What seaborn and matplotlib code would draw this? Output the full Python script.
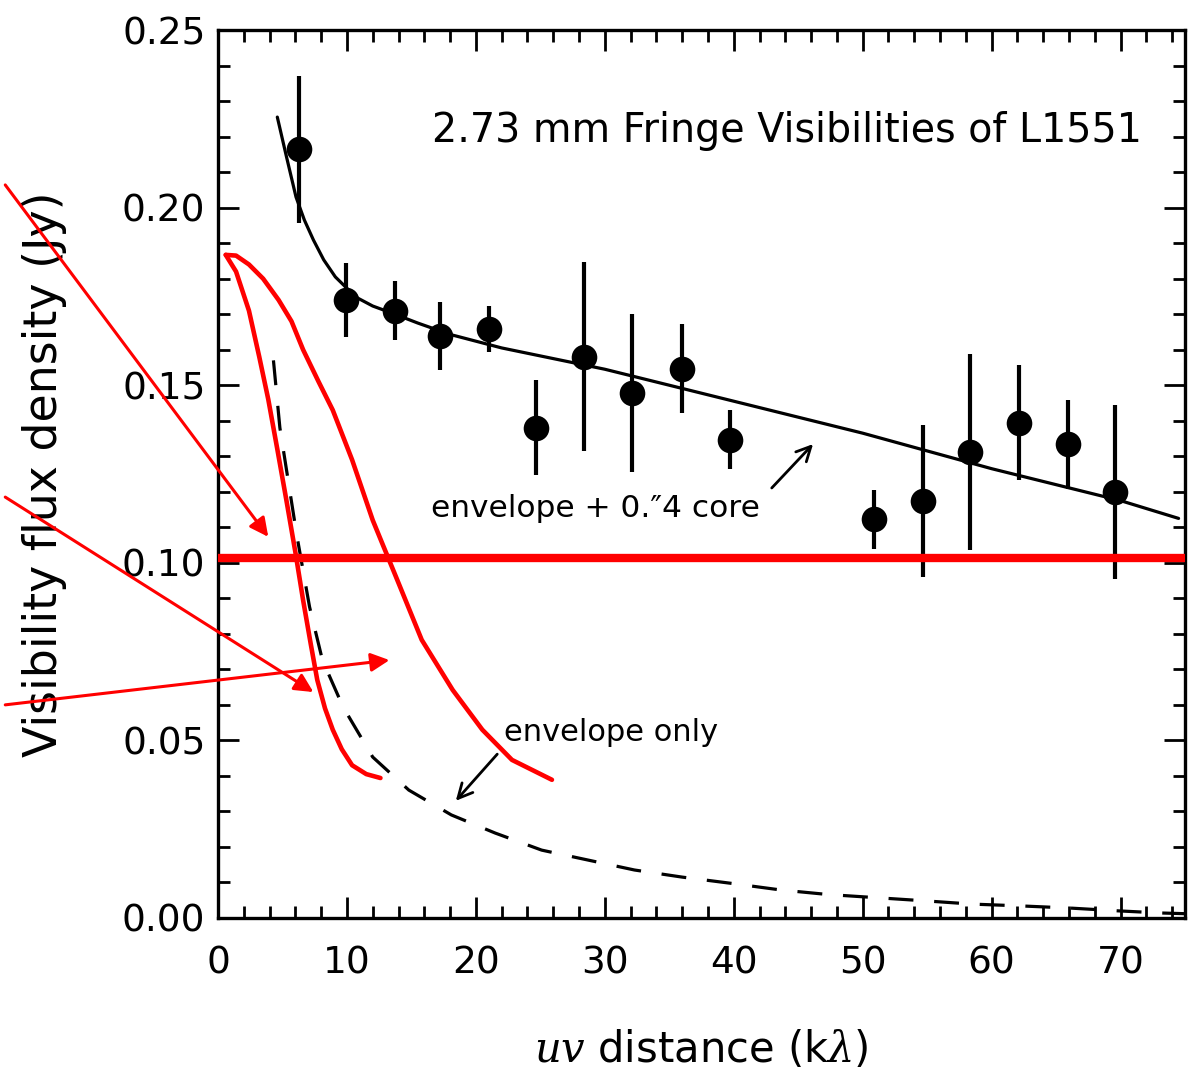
import matplotlib
matplotlib.use("Agg")
import matplotlib.pyplot as plt
import seaborn as sns
import pandas as pd
from matplotlib.ticker import MultipleLocator, FormatStrFormatter

# ---------------- data ----------------
vis_x = [6.3, 9.9, 13.7, 17.2, 21.0, 24.7, 28.4, 32.1, 36.0, 39.7,
         50.9, 54.7, 58.3, 62.1, 65.9, 69.6]
vis_y = [0.2165, 0.174, 0.171, 0.1638, 0.1658, 0.138, 0.158, 0.1478,
         0.1546, 0.1346, 0.1123, 0.1174, 0.1312, 0.1394, 0.1334, 0.1199]
vis_err = [0.0207, 0.0105, 0.0083, 0.0096, 0.0065, 0.0134, 0.0266, 0.0222,
           0.0125, 0.0083, 0.0083, 0.0213, 0.0275, 0.0162, 0.0125, 0.0245]

core_x = [4.6, 5.3, 6.05, 6.7, 7.4, 8.2, 9.1, 10.7, 12.0, 13.5, 15.5, 18.0,
          22.0, 30.0, 40.0, 50.0, 60.0, 70.0, 74.5]
core_y = [0.2255, 0.2145, 0.203, 0.1965, 0.1909, 0.1853, 0.1805, 0.1748,
          0.1723, 0.1703, 0.1675, 0.1643, 0.1605, 0.1545, 0.1455, 0.1365,
          0.1265, 0.1175, 0.1125]

env_x = [4.3, 4.8, 6.1, 7.1, 8.1, 9.7, 12.0, 14.8, 18.1, 21.5, 25.1, 28.7,
         32.3, 36.0, 39.9, 43.6, 47.3, 51.1, 54.9, 58.5, 62.2, 66.0, 69.8,
         73.1, 75.0]
env_y = [0.157, 0.138, 0.108, 0.0876, 0.0726, 0.0594, 0.0453, 0.036, 0.029,
         0.0239, 0.0191, 0.0163, 0.0135, 0.0115, 0.0097, 0.0079, 0.0066,
         0.0057, 0.0048, 0.0039, 0.0034, 0.0028, 0.0020, 0.0014, 0.0012]

red1_x = [0.6, 1.4, 2.4, 3.2, 3.9, 4.6, 5.3, 6.0, 6.6, 7.2, 7.7, 8.3, 8.9,
          9.6, 10.4, 11.5, 12.6]
red1_y = [0.1867, 0.182, 0.171, 0.158, 0.146, 0.132, 0.1177, 0.103, 0.0895,
          0.077, 0.067, 0.059, 0.053, 0.0475, 0.043, 0.0405, 0.0394]

red2_x = [0.6, 1.4, 2.4, 3.5, 4.7, 5.7, 6.6, 7.8, 8.9, 10.4, 12.0, 13.9,
          15.8, 18.2, 20.5, 22.8, 25.9]
red2_y = [0.1867, 0.1865, 0.184, 0.180, 0.174, 0.168, 0.160, 0.151, 0.143,
          0.129, 0.112, 0.0952, 0.0783, 0.0642, 0.053, 0.0445, 0.0389]

red_level = 0.1014

title_text = "2.73 mm Fringe Visibilities of L1551"
core_label = "envelope + 0.\u20334 core"
env_label = "envelope only"
x_label = r"$uv$ distance (k$\lambda$)"
y_label = "Visibility flux density (Jy)"

# ---------------- plotting ----------------
sns.set_theme(style="ticks")
plt.rcParams["font.family"] = ["DejaVu Sans"]
plt.rcParams["mathtext.fontset"] = "dejavuserif"
for k in ["text.color", "axes.labelcolor", "xtick.color", "ytick.color",
          "axes.edgecolor"]:
    plt.rcParams[k] = "black"

fig = plt.figure(figsize=(11.88, 10.74), dpi=100)
ax = fig.add_axes([0.1835, 0.1453, 0.8140, 0.8267])

pts = pd.DataFrame({"x": vis_x, "y": vis_y, "err": vis_err})
ax.errorbar(pts["x"], pts["y"], yerr=pts["err"], fmt="none",
            ecolor="black", elinewidth=3.0, capsize=0, zorder=3)
sns.scatterplot(data=pts, x="x", y="y", ax=ax, s=340, color="black",
                marker="o", edgecolor="black", linewidth=0, zorder=4)

sns.lineplot(x=core_x, y=core_y, ax=ax, color="black", lw=2.3,
             sort=False, estimator=None, zorder=3)
sns.lineplot(x=env_x, y=env_y, ax=ax, color="black", lw=2.3,
             sort=False, estimator=None, zorder=3)
ax.lines[-1].set_dashes([7.8, 6.5])

sns.lineplot(x=red1_x, y=red1_y, ax=ax, color="red", lw=3.3,
             sort=False, estimator=None, zorder=5)
sns.lineplot(x=red2_x, y=red2_y, ax=ax, color="red", lw=3.3,
             sort=False, estimator=None, zorder=5)
ax.axhline(red_level, color="red", lw=6, zorder=5)

# texts
ax.text(16.6, 0.2215, title_text, fontsize=28.5, ha="left", va="center")
ax.text(16.5, 0.1154, core_label, fontsize=22.5, ha="left", va="center")
ax.text(22.2, 0.0521, env_label, fontsize=22, ha="left", va="center")

# black arrows
ax.annotate("", xy=(46.3, 0.134), xytext=(42.8, 0.1205),
            arrowprops=dict(arrowstyle="->", color="black", lw=2,
                            mutation_scale=26))
ax.annotate("", xy=(18.3, 0.0324), xytext=(21.8, 0.0467),
            arrowprops=dict(arrowstyle="->", color="black", lw=2,
                            mutation_scale=26))

# red arrows coming from the left margin
for tail, head in [((-16.5, 0.2064), (3.9, 0.1073)),
                   ((-16.5, 0.1185), (7.4, 0.0636)),
                   ((-16.5, 0.0600), (13.3, 0.0726))]:
    ax.annotate("", xy=head, xytext=tail, xycoords="data",
                annotation_clip=False,
                arrowprops=dict(arrowstyle="-|>", color="red", lw=2.2,
                                mutation_scale=28, shrinkA=0, shrinkB=0,
                                clip_on=False))

# axes styling
ax.set_xlim(0, 75)
ax.set_ylim(0, 0.25)
ax.xaxis.set_major_locator(MultipleLocator(10))
ax.xaxis.set_minor_locator(MultipleLocator(2))
ax.yaxis.set_major_locator(MultipleLocator(0.05))
ax.yaxis.set_minor_locator(MultipleLocator(0.01))
ax.yaxis.set_major_formatter(FormatStrFormatter("%.2f"))
ax.tick_params(which="both", direction="in", top=True, right=True,
               color="black", width=2.0, labelcolor="black")
ax.tick_params(which="major", length=15, labelsize=27)
ax.tick_params(axis="x", which="major", pad=20)
ax.tick_params(axis="y", which="major", pad=9)
ax.tick_params(which="minor", length=8.5)
for sp in ax.spines.values():
    sp.set_visible(True)
    sp.set_linewidth(2.4)
    sp.set_color("black")

ax.set_xlabel(x_label, fontsize=30, color="black")
ax.set_ylabel(y_label, fontsize=33, color="black")
ax.xaxis.set_label_coords(0.5, -0.125)
ax.yaxis.set_label_coords(-0.156, 0.5)
ax.grid(False)

fig.savefig("out.png", dpi=100)
